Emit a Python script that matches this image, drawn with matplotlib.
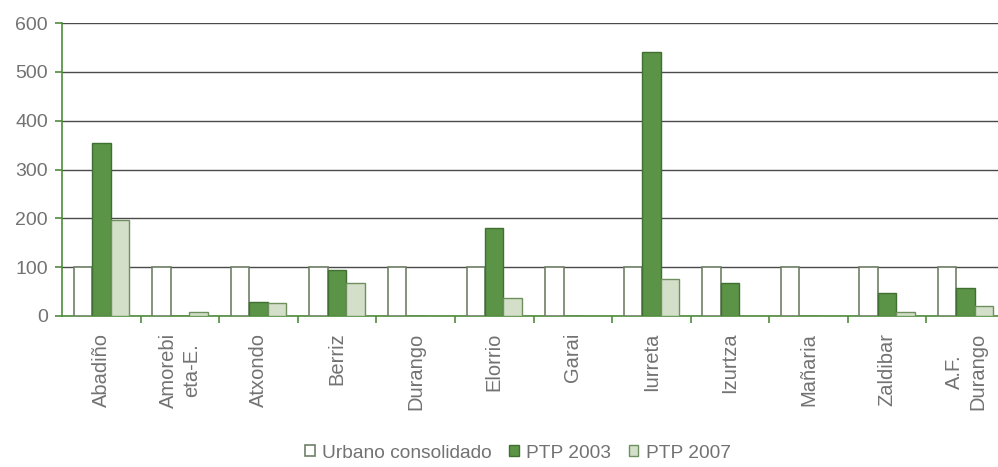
import matplotlib
matplotlib.use("Agg")
import matplotlib.pyplot as plt
import numpy as np

plt.rcParams['font.family'] = ['Liberation Sans', 'DejaVu Sans']

municipios = ["Abadiño", "Amorebi\neta-E.", "Atxondo", "Berriz", "Durango", "Elorrio",
              "Garai", "Iurreta", "Izurtza", "Mañaria", "Zaldibar", "A.F.\nDurango"]
urbano = [100, 100, 100, 100, 100, 100, 100, 100, 100, 100, 100, 100]
ptp_2003 = [355, 0, 29, 94, 0, 180, 0, 540, 68, 0, 48, 57]
ptp_2007 = [197, 9, 27, 67, 0, 36, 0, 75, 0, 0, 9, 20]

green_dark = "#5b9447"
green_edge = "#3f6f31"
green_light = "#d3dfc8"
axis_green = "#4f8c3c"
text_gray = "#727272"

fig = plt.figure(figsize=(9.98, 4.67), dpi=100)
ax = fig.add_axes([62 / 998, 151 / 467, 943 / 998, 293 / 467])

x = np.arange(len(municipios))
w = 0.235
ax.bar(x - w, urbano, w, color="white", edgecolor="#6f7f66", linewidth=1.2,
       label="Urbano consolidado", zorder=3)
ax.bar(x, ptp_2003, w, color=green_dark, edgecolor=green_edge, linewidth=1.0,
       label="PTP 2003", zorder=3)
ax.bar(x + w, ptp_2007, w, color=green_light, edgecolor="#6f8f5f", linewidth=1.0,
       label="PTP 2007", zorder=3)

ax.set_xlim(-0.5, len(municipios) - 0.5)
ax.set_ylim(0, 600)
ax.set_yticks(range(0, 601, 100))
ax.yaxis.grid(True, color="#4a4a4a", linewidth=1.0, zorder=0)
ax.set_axisbelow(True)

for side in ["top", "right"]:
    ax.spines[side].set_visible(False)
ax.spines["left"].set_color(axis_green)
ax.spines["bottom"].set_color(axis_green)
ax.spines["left"].set_linewidth(1.2)
ax.spines["bottom"].set_linewidth(1.2)

ax.set_xticks(x)
ax.set_xticklabels(municipios, rotation=90, fontsize=14.5, color=text_gray,
                   linespacing=1.3)
ax.set_xticks(np.arange(0.5, len(municipios) - 0.5, 1), minor=True)
ax.tick_params(axis="x", which="major", length=0, pad=12)
ax.tick_params(axis="x", which="minor", length=5, color=axis_green, width=1.2)
ax.tick_params(axis="y", length=5, color=axis_green, width=1.2,
               labelsize=14, labelcolor=text_gray, pad=5)

fig.legend(loc="center", bbox_to_anchor=(518 / 998, 1 - 453 / 467), ncol=3,
           frameon=False, fontsize=13.8, labelcolor=text_gray, handlelength=0.5,
           handleheight=0.5, handletextpad=0.4, columnspacing=0.9)

fig.savefig("out.png", dpi=100)
